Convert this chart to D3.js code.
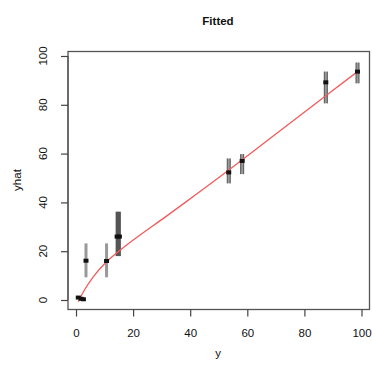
<!DOCTYPE html>
<html>
<head>
<meta charset="utf-8">
<script src="https://cdn.jsdelivr.net/npm/d3@7"></script>
<style>
  body { margin: 0; background: #fff; }
  text { font-family: "Liberation Sans", Arial, sans-serif; fill: #111; }
</style>
</head>
<body>
<div id="chart"></div>
<script>
// observed values (y) and fitted values (yhat) with interval bounds
const yObs  = [0.8, 1.8, 2.6, 3.5, 10.7, 14.4, 15.2, 53.5, 58.2, 87.5, 98.6];
const yHat  = [1.0, 0.5, 0.3, 16.1, 16.0, 26.0, 26.0, 52.3, 57.0, 89.2, 93.6];
const yLow  = [0.3, 0.0, 0.0, 9.3, 9.3, 18.0, 18.0, 47.8, 51.6, 80.6, 88.8];
const yHigh = [1.6, 1.0, 0.8, 23.2, 23.2, 36.2, 36.2, 58.0, 59.8, 93.6, 97.3];

// fitted curve
const curveX = [0.8, 2.6, 6.1, 10.7, 14.8, 32.9, 50.4, 70, 87.5, 98.6];
const curveY = [-0.7, 3.4, 9.6, 15.7, 19.8, 35.4, 50.5, 68.0, 83.7, 93.6];

const xTicks = [0, 20, 40, 60, 80, 100];
const yTicks = [0, 20, 40, 60, 80, 100];

const W = 372, H = 367;
const box = { left: 68, right: 369.5, top: 51.5, bottom: 309.5 };

const svg = d3.select("#chart").append("svg")
  .attr("width", W)
  .attr("height", H);

const x = d3.scaleLinear().domain([0, 100]).range([76, 361.5]);
const y = d3.scaleLinear().domain([0, 100]).range([300, 56]);

// plot box
svg.append("rect")
  .attr("x", box.left).attr("y", box.top)
  .attr("width", box.right - box.left)
  .attr("height", box.bottom - box.top)
  .attr("fill", "none")
  .attr("stroke", "#555")
  .attr("stroke-width", 1.3);

// x axis
const xAxis = svg.append("g")
  .attr("transform", `translate(0,${box.bottom})`)
  .call(d3.axisBottom(x).tickValues(xTicks).tickSize(7).tickPadding(12));
xAxis.select(".domain").attr("stroke", "#555").attr("stroke-width", 1.2)
  .attr("d", `M${x(0)},0H${x(100)}`);
xAxis.selectAll(".tick line").attr("stroke", "#444").attr("stroke-width", 1.2);
xAxis.selectAll(".tick text")
  .style("font-size", "11.5px")
  .style("fill", "#111")
  .style("font-family", "Liberation Sans, Arial, sans-serif");

// y axis, labels parallel to the axis
const yAxis = svg.append("g")
  .attr("transform", `translate(${box.left},0)`)
  .call(d3.axisLeft(y).tickValues(yTicks).tickSize(7).tickFormat(""));
yAxis.select(".domain").attr("stroke", "#555").attr("stroke-width", 1.2)
  .attr("d", `M0,${y(0)}V${y(100)}`);
yAxis.selectAll(".tick line").attr("stroke", "#444").attr("stroke-width", 1.2);

svg.selectAll(".ylab")
  .data(yTicks)
  .enter()
  .append("text")
  .attr("class", "ylab")
  .attr("transform", d => `translate(47,${y(d)}) rotate(-90)`)
  .attr("text-anchor", "middle")
  .style("font-size", "11.5px")
  .text(d => d);

// titles
svg.append("text")
  .attr("x", 218).attr("y", 25)
  .attr("text-anchor", "middle")
  .style("font-size", "11.5px")
  .style("font-weight", "bold")
  .text("Fitted");

svg.append("text")
  .attr("x", 218).attr("y", 357)
  .attr("text-anchor", "middle")
  .style("font-size", "11.5px")
  .text("y");

svg.append("text")
  .attr("transform", "translate(21,180) rotate(-90)")
  .attr("text-anchor", "middle")
  .style("font-size", "11.5px")
  .text("yhat");

// interval bars
const idx = d3.range(yObs.length);
const bars = svg.append("g");
idx.forEach(i => {
  if (yHigh[i] - yLow[i] < 3) return;
  const mid = yObs[i] > 12 && yObs[i] < 20;
  bars.append("line")
    .attr("x1", x(yObs[i])).attr("x2", x(yObs[i]))
    .attr("y1", y(yLow[i])).attr("y2", y(yHigh[i]))
    .attr("stroke", mid ? "#555" : "#999")
    .attr("stroke-width", 3);
  if (yObs[i] > 50) {
    [-1.5, 1.5].forEach(off => {
      bars.append("line")
        .attr("x1", x(yObs[i]) + off).attr("x2", x(yObs[i]) + off)
        .attr("y1", y(yLow[i])).attr("y2", y(yHigh[i]))
        .attr("stroke", "#555")
        .attr("stroke-width", 1);
    });
  }
});

// fitted line
const line = d3.line()
  .x(d => x(d[0]))
  .y(d => y(d[1]))
  .curve(d3.curveMonotoneX);

svg.append("path")
  .datum(d3.zip(curveX, curveY))
  .attr("d", line)
  .attr("fill", "none")
  .attr("stroke", "#f25b5b")
  .attr("stroke-width", 1.3);

// points
svg.selectAll(".pt")
  .data(idx)
  .enter()
  .append("rect")
  .attr("class", "pt")
  .attr("x", i => x(yObs[i]) - 2.5)
  .attr("y", i => y(yHat[i]) - 2)
  .attr("width", 5)
  .attr("height", 4)
  .attr("fill", "#111");
</script>
</body>
</html>
